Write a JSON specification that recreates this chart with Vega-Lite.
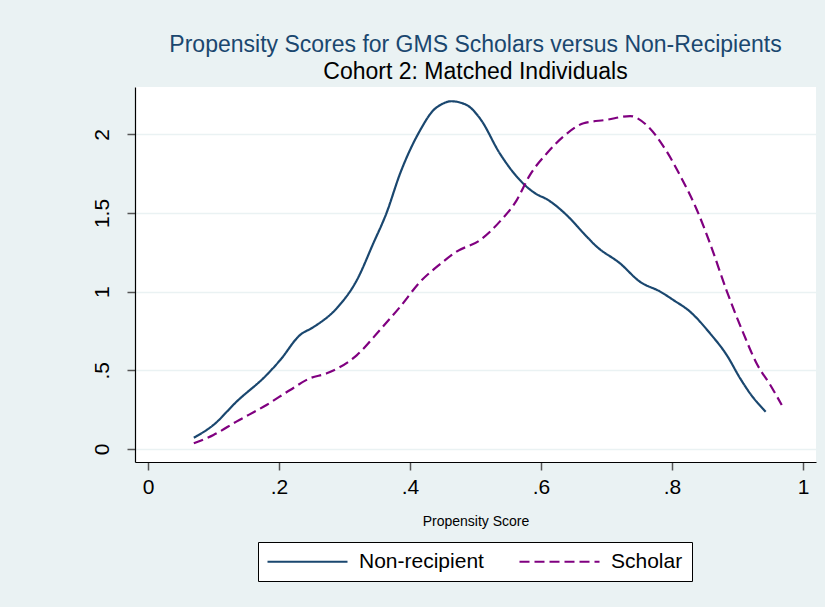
{
  "$schema": "https://vega.github.io/schema/vega-lite/v6.json",
  "width": 681,
  "height": 375,
  "autosize": {"type": "none"},
  "padding": {"left": 135, "top": 87, "right": 9, "bottom": 145},
  "background": "#EAF2F3",
  "title": {
    "text": "Propensity Scores for GMS Scholars versus Non-Recipients",
    "subtitle": "Cohort 2: Matched Individuals",
    "anchor": "middle",
    "frame": "group",
    "font": "Liberation Sans",
    "fontSize": 23,
    "fontWeight": "normal",
    "color": "#1a476f",
    "subtitleFont": "Liberation Sans",
    "subtitleFontSize": 23,
    "subtitleColor": "#000000",
    "subtitlePadding": 4,
    "offset": 3
  },
  "config": {
    "view": {"fill": "white", "stroke": null},
    "font": "Liberation Sans",
    "axis": {
      "labelFont": "Liberation Sans",
      "labelFontSize": 21,
      "labelColor": "#000000",
      "domainColor": "#000000",
      "domainWidth": 1.2,
      "tickColor": "#555555",
      "tickWidth": 1.5,
      "tickSize": 8,
      "titleFont": "Liberation Sans",
      "titleFontWeight": "normal",
      "titleColor": "#000000"
    },
    "legend": {
      "labelFont": "Liberation Sans",
      "labelFontSize": 21,
      "labelColor": "#000000"
    }
  },
  "data": {
    "values": [
      {"x": 0.070, "y": 0.072, "group": "Non-recipient"},
      {"x": 0.100, "y": 0.153, "group": "Non-recipient"},
      {"x": 0.135, "y": 0.300, "group": "Non-recipient"},
      {"x": 0.181, "y": 0.470, "group": "Non-recipient"},
      {"x": 0.202, "y": 0.566, "group": "Non-recipient"},
      {"x": 0.232, "y": 0.724, "group": "Non-recipient"},
      {"x": 0.252, "y": 0.773, "group": "Non-recipient"},
      {"x": 0.288, "y": 0.894, "group": "Non-recipient"},
      {"x": 0.319, "y": 1.074, "group": "Non-recipient"},
      {"x": 0.344, "y": 1.307, "group": "Non-recipient"},
      {"x": 0.364, "y": 1.498, "group": "Non-recipient"},
      {"x": 0.385, "y": 1.752, "group": "Non-recipient"},
      {"x": 0.415, "y": 2.022, "group": "Non-recipient"},
      {"x": 0.436, "y": 2.154, "group": "Non-recipient"},
      {"x": 0.448, "y": 2.190, "group": "Non-recipient"},
      {"x": 0.463, "y": 2.210, "group": "Non-recipient"},
      {"x": 0.4865, "y": 2.186, "group": "Non-recipient"},
      {"x": 0.507, "y": 2.100, "group": "Non-recipient"},
      {"x": 0.537, "y": 1.879, "group": "Non-recipient"},
      {"x": 0.563, "y": 1.731, "group": "Non-recipient"},
      {"x": 0.578, "y": 1.667, "group": "Non-recipient"},
      {"x": 0.593, "y": 1.620, "group": "Non-recipient"},
      {"x": 0.609, "y": 1.587, "group": "Non-recipient"},
      {"x": 0.639, "y": 1.487, "group": "Non-recipient"},
      {"x": 0.665, "y": 1.371, "group": "Non-recipient"},
      {"x": 0.685, "y": 1.286, "group": "Non-recipient"},
      {"x": 0.7206, "y": 1.180, "group": "Non-recipient"},
      {"x": 0.751, "y": 1.063, "group": "Non-recipient"},
      {"x": 0.782, "y": 1.000, "group": "Non-recipient"},
      {"x": 0.802, "y": 0.947, "group": "Non-recipient"},
      {"x": 0.8275, "y": 0.873, "group": "Non-recipient"},
      {"x": 0.858, "y": 0.735, "group": "Non-recipient"},
      {"x": 0.8835, "y": 0.597, "group": "Non-recipient"},
      {"x": 0.904, "y": 0.449, "group": "Non-recipient"},
      {"x": 0.919, "y": 0.354, "group": "Non-recipient"},
      {"x": 0.943, "y": 0.237, "group": "Non-recipient"},
      {"x": 0.070, "y": 0.036, "group": "Scholar"},
      {"x": 0.100, "y": 0.089, "group": "Scholar"},
      {"x": 0.135, "y": 0.174, "group": "Scholar"},
      {"x": 0.181, "y": 0.280, "group": "Scholar"},
      {"x": 0.217, "y": 0.375, "group": "Scholar"},
      {"x": 0.247, "y": 0.449, "group": "Scholar"},
      {"x": 0.273, "y": 0.481, "group": "Scholar"},
      {"x": 0.319, "y": 0.597, "group": "Scholar"},
      {"x": 0.354, "y": 0.756, "group": "Scholar"},
      {"x": 0.385, "y": 0.904, "group": "Scholar"},
      {"x": 0.415, "y": 1.060, "group": "Scholar"},
      {"x": 0.446, "y": 1.175, "group": "Scholar"},
      {"x": 0.471, "y": 1.254, "group": "Scholar"},
      {"x": 0.507, "y": 1.328, "group": "Scholar"},
      {"x": 0.537, "y": 1.445, "group": "Scholar"},
      {"x": 0.563, "y": 1.582, "group": "Scholar"},
      {"x": 0.583, "y": 1.741, "group": "Scholar"},
      {"x": 0.609, "y": 1.879, "group": "Scholar"},
      {"x": 0.634, "y": 1.985, "group": "Scholar"},
      {"x": 0.665, "y": 2.070, "group": "Scholar"},
      {"x": 0.700, "y": 2.092, "group": "Scholar"},
      {"x": 0.736, "y": 2.116, "group": "Scholar"},
      {"x": 0.761, "y": 2.059, "group": "Scholar"},
      {"x": 0.792, "y": 1.890, "group": "Scholar"},
      {"x": 0.812, "y": 1.741, "group": "Scholar"},
      {"x": 0.838, "y": 1.519, "group": "Scholar"},
      {"x": 0.858, "y": 1.307, "group": "Scholar"},
      {"x": 0.883, "y": 1.010, "group": "Scholar"},
      {"x": 0.909, "y": 0.735, "group": "Scholar"},
      {"x": 0.929, "y": 0.545, "group": "Scholar"},
      {"x": 0.950, "y": 0.407, "group": "Scholar"},
      {"x": 0.9675, "y": 0.280, "group": "Scholar"}
    ]
  },
  "mark": {"type": "line", "strokeWidth": 2.2, "interpolate": "monotone"},
  "encoding": {
    "x": {
      "field": "x",
      "type": "quantitative",
      "scale": {"domain": [-0.0198, 1.0198], "nice": false, "zero": false},
      "axis": {
        "title": "Propensity Score",
        "titleFontSize": 14,
        "titlePadding": 17,
        "values": [0, 0.2, 0.4, 0.6, 0.8, 1],
        "labelExpr": "datum.value > 0 && datum.value < 1 ? slice(format(datum.value, ''), 1) : format(datum.value, '')",
        "grid": false,
        "labelPadding": 6,
        "labelFlush": false
      }
    },
    "y": {
      "field": "y",
      "type": "quantitative",
      "scale": {"domain": [-0.0826, 2.3006], "nice": false, "zero": false},
      "axis": {
        "title": null,
        "values": [0, 0.5, 1, 1.5, 2],
        "labelExpr": "datum.value > 0 && datum.value < 1 ? slice(format(datum.value, ''), 1) : format(datum.value, '')",
        "labelAngle": -90,
        "labelPadding": 15,
        "labelFlush": false,
        "grid": true,
        "gridColor": "#EAF2F3",
        "gridWidth": 1.5
      }
    },
    "color": {
      "field": "group",
      "type": "nominal",
      "scale": {"domain": ["Non-recipient", "Scholar"], "range": ["#1a476f", "#800080"]},
      "legend": {
        "title": null,
        "orient": "none",
        "legendX": 123,
        "legendY": 455,
        "direction": "horizontal",
        "columns": 2,
        "columnPadding": 31,
        "fillColor": "white",
        "strokeColor": "#000000",
        "padding": 9,
        "symbolType": "M-2,0H14",
        "symbolSize": 100,
        "symbolStrokeWidth": 2,
        "labelOffset": 71
      }
    },
    "strokeDash": {
      "field": "group",
      "type": "nominal",
      "scale": {"domain": ["Non-recipient", "Scholar"], "range": [[1, 0], [10, 5]]},
      "legend": null
    }
  }
}
